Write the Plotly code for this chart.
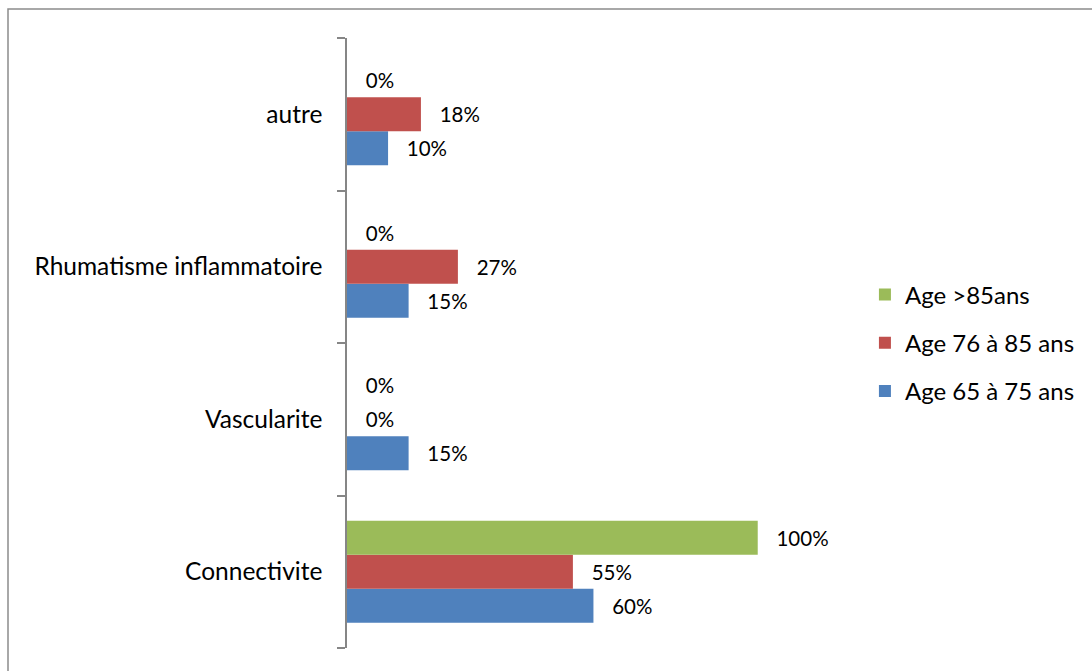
import plotly.graph_objects as go

categories = ["Connectivite", "Vascularite", "Rhumatisme inflammatoire", "autre"]
series_names = ["Age 65 à 75 ans", "Age 76 à 85 ans", "Age >85ans"]
age_65_75 = [60, 15, 15, 10]
age_76_85 = [55, 0, 27, 18]
age_85_plus = [100, 0, 0, 0]
colors = ["#4F81BD", "#C0504D", "#9BBB59"]

FONT = "Lato"
pad = "\u00a0\u00a0\u00a0"

fig = go.Figure()
for i, (name, vals, col) in enumerate(zip(series_names, [age_65_75, age_76_85, age_85_plus], colors)):
    fig.add_trace(go.Bar(
        y=categories, x=vals, name=name, orientation="h",
        marker=dict(color=col, line=dict(width=0)),
        text=[f"{pad}{v}%" for v in vals], textposition="outside",
        textfont=dict(family=FONT, size=20.5, color="#000000"),
        cliponaxis=False, legendgroup=f"g{i}", legendrank=3 - i,
    ))

fig.update_layout(
    width=1092, height=671,
    margin=dict(l=347, r=252, t=38, b=23),
    paper_bgcolor="white", plot_bgcolor="white",
    barmode="group", bargap=0.33, bargroupgap=0,
    font=dict(family=FONT, size=24, color="#000000"),
    xaxis=dict(range=[0, 119.3], visible=False, fixedrange=True),
    yaxis=dict(
        type="category", categoryorder="array", categoryarray=categories,
        showline=True, linecolor="#868686", linewidth=1.5,
        ticks="outside", tickson="boundaries", ticklen=8, tickcolor="#868686", tickwidth=1.5,
        showgrid=False, zeroline=False, ticklabelstandoff=18,
        tickfont=dict(family=FONT, size=24.5, color="#000000"),
    ),
    legend=dict(
        x=1.057, xanchor="left", y=0.5, yanchor="middle",
        xref="paper", yref="paper",
        traceorder="grouped", tracegroupgap=14,
        font=dict(family=FONT, size=24, color="#000000"),
        bgcolor="rgba(0,0,0,0)", itemwidth=30,
    ),
    showlegend=True,
)

# outer chart frame
fig.add_shape(type="rect", xref="paper", yref="paper",
              x0=-339 / 490, x1=(1092 + 20 - 347) / 490,
              y0=-(23 + 20) / 610, y1=(610 + 29) / 610,
              line=dict(color="#8C8C8C", width=1.5), layer="below")

fig.write_html("out.html")
